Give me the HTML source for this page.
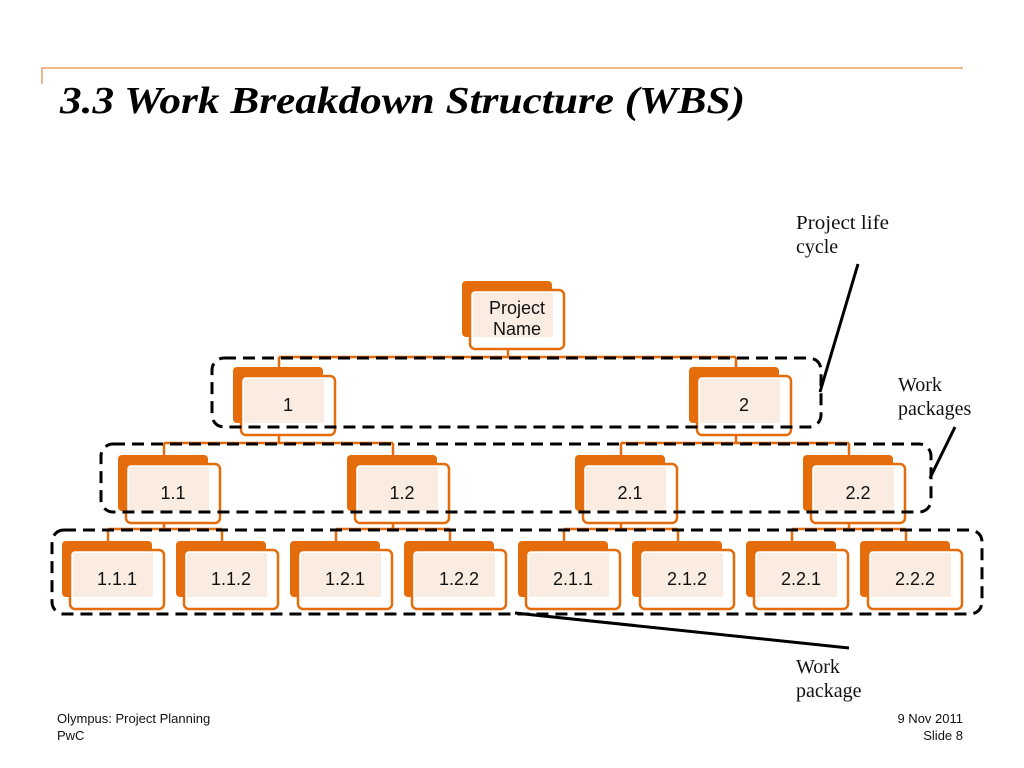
<!DOCTYPE html>
<html><head><meta charset="utf-8"><style>
html,body{margin:0;padding:0;background:#fff;}
svg{display:block}
</style></head><body>
<svg width="1024" height="768" viewBox="0 0 1024 768" xmlns="http://www.w3.org/2000/svg">
<rect width="1024" height="768" fill="#fff"/>
<path d="M42 84 V68 H963" stroke="#E8A060" stroke-width="1.5" fill="none"/>
<text x="60" y="113" font-family="Liberation Serif, serif" font-weight="bold" font-style="italic" font-size="38" fill="#000" textLength="685" lengthAdjust="spacingAndGlyphs">3.3 Work Breakdown Structure (WBS)</text>

<g stroke="#E46C0A" stroke-width="2.5" fill="none">
<path d="M508 349V357 M279 357H736 M279 357V367 M736 357V367"/>
<path d="M279 435V443 M164 443H393 M164 443V455 M393 443V455"/>
<path d="M736 435V443 M621 443H849 M621 443V455 M849 443V455"/>
<path d="M164 522V529 M108 529H222 M108 529V541 M222 529V541"/>
<path d="M393 522V529 M336 529H450 M336 529V541 M450 529V541"/>
<path d="M621 522V529 M564 529H678 M564 529V541 M678 529V541"/>
<path d="M849 522V529 M792 529H906 M792 529V541 M906 529V541"/>
</g>

<defs>
<g id="n">
<rect x="0" y="0" width="90" height="56" rx="4" fill="#E46C0A"/>
<rect x="8" y="9" width="94" height="59" rx="5" fill="#fff" stroke="#E46C0A" stroke-width="2.5"/>
<rect x="11" y="12" width="80" height="44" fill="#FBECE2"/>
</g>
</defs>

<g font-family="Liberation Sans, sans-serif" font-size="18" fill="#111" text-anchor="middle">
<use href="#n" x="462" y="281"/>
<text x="517" y="314">Project</text><text x="517" y="335">Name</text>
<use href="#n" x="233" y="367"/><text x="288" y="411">1</text>
<use href="#n" x="689" y="367"/><text x="744" y="411">2</text>
<use href="#n" x="118" y="455"/><text x="173" y="499">1.1</text>
<use href="#n" x="347" y="455"/><text x="402" y="499">1.2</text>
<use href="#n" x="575" y="455"/><text x="630" y="499">2.1</text>
<use href="#n" x="803" y="455"/><text x="858" y="499">2.2</text>
<use href="#n" x="62" y="541"/><text x="117" y="585">1.1.1</text>
<use href="#n" x="176" y="541"/><text x="231" y="585">1.1.2</text>
<use href="#n" x="290" y="541"/><text x="345" y="585">1.2.1</text>
<use href="#n" x="404" y="541"/><text x="459" y="585">1.2.2</text>
<use href="#n" x="518" y="541"/><text x="573" y="585">2.1.1</text>
<use href="#n" x="632" y="541"/><text x="687" y="585">2.1.2</text>
<use href="#n" x="746" y="541"/><text x="801" y="585">2.2.1</text>
<use href="#n" x="860" y="541"/><text x="915" y="585">2.2.2</text>
</g>

<g stroke="#000" stroke-width="3" fill="none" stroke-dasharray="12,7">
<rect x="212" y="358" width="609" height="69" rx="12"/>
<rect x="101" y="444" width="830" height="68" rx="12"/>
<rect x="52" y="530" width="930" height="84" rx="12"/>
</g>
<g stroke="#000" stroke-width="3">
<line x1="858" y1="264" x2="820" y2="392"/>
<line x1="955" y1="427" x2="930" y2="478"/>
<line x1="515" y1="613" x2="849" y2="648"/>
</g>

<g font-family="Liberation Serif, serif" font-size="20" fill="#111">
<text x="796" y="229" textLength="93" lengthAdjust="spacingAndGlyphs">Project life</text><text x="796" y="253">cycle</text>
<text x="898" y="391">Work</text><text x="898" y="415">packages</text>
<text x="796" y="673">Work</text><text x="796" y="697">package</text>
</g>
<g font-family="Liberation Sans, sans-serif" font-size="13" fill="#111">
<text x="57" y="723">Olympus: Project Planning</text><text x="57" y="740">PwC</text>
<text x="963" y="723" text-anchor="end">9 Nov 2011</text><text x="963" y="740" text-anchor="end">Slide 8</text>
</g>
</svg>
</body></html>
